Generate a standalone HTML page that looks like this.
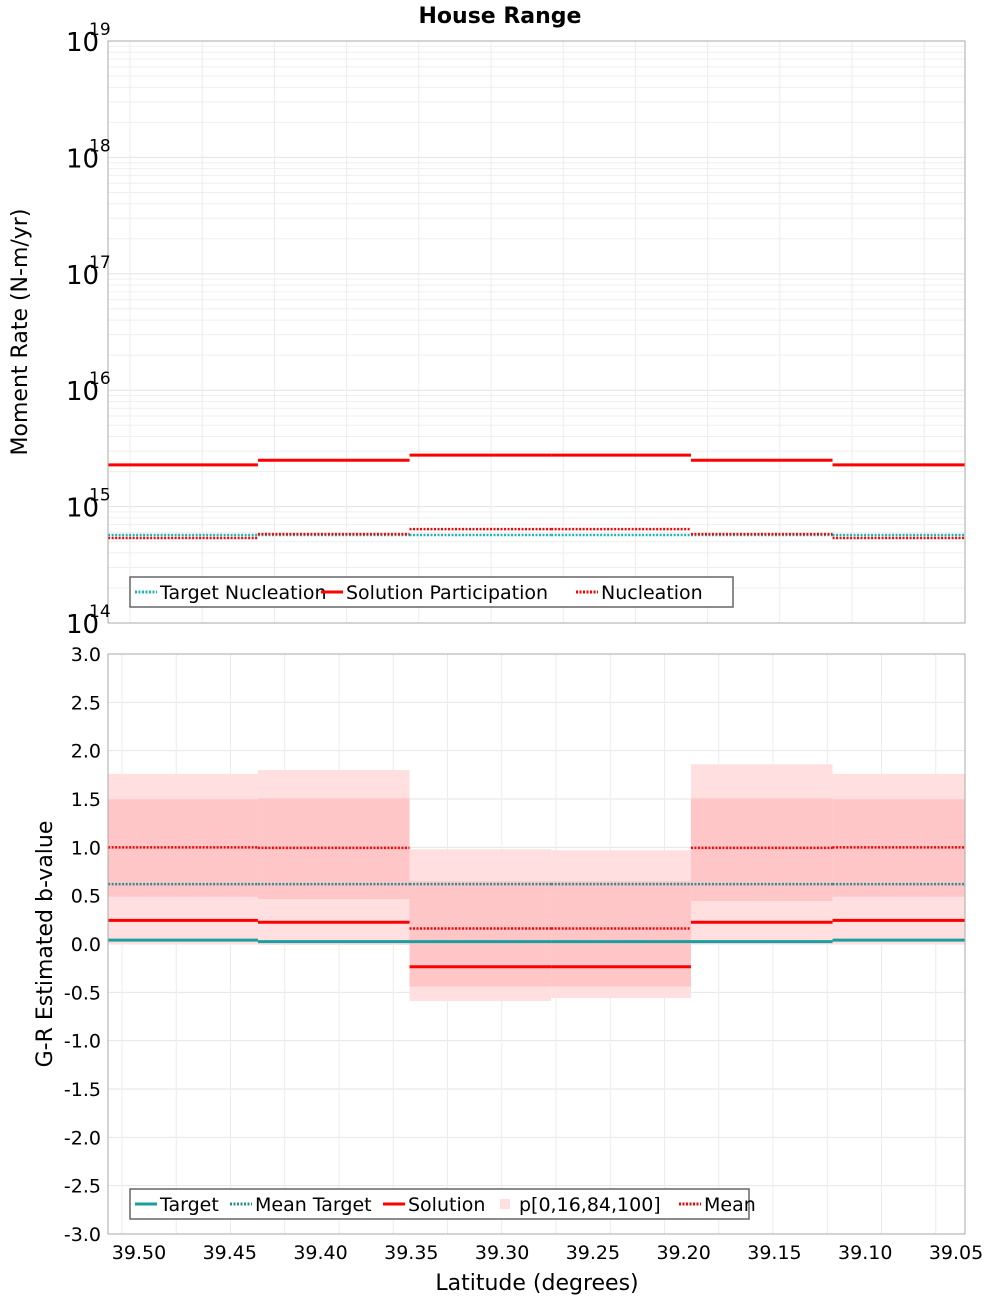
<!DOCTYPE html>
<html><head><meta charset="utf-8"><style>
body{margin:0;background:#fff;font-family:"DejaVu Sans","Liberation Sans",sans-serif;}
svg text{font-family:"DejaVu Sans","Liberation Sans",sans-serif;}
</style></head><body>
<svg id="c" width="1000" height="1300" xmlns="http://www.w3.org/2000/svg">
<text x="500" y="23" text-anchor="middle" font-size="22" font-weight="bold">House Range</text>
<g id="topPanel"></g>
<g id="botPanel"></g>
<text x="537" y="1290" text-anchor="middle" font-size="22">Latitude (degrees)</text>
<text transform="translate(27,332) rotate(-90)" text-anchor="middle" font-size="22">Moment Rate (N-m/yr)</text>
<text transform="translate(52,944) rotate(-90)" text-anchor="middle" font-size="22">G-R Estimated b-value</text>
</svg>
<script>
const binEdges=[39.517,39.4345,39.351,39.273,39.196,39.118,39.045];
const xTicks=[39.50,39.45,39.40,39.35,39.30,39.25,39.20,39.15,39.10,39.05];
const topDecades=[14,15,16,17,18,19];
const solPart=[2.28e15,2.5e15,2.77e15,2.77e15,2.5e15,2.28e15];
const nucl=[5.37e14,5.8e14,6.4e14,6.4e14,5.8e14,5.37e14];
const targetNucl=[5.7e14,5.7e14,5.7e14,5.7e14,5.7e14,5.7e14];
const bTicks=[-3,-2.5,-2,-1.5,-1,-0.5,0,0.5,1,1.5,2,2.5,3];
const p0=[0.0,-0.01,-0.59,-0.56,0.0,0.0];
const p16=[0.49,0.465,-0.44,-0.44,0.445,0.49];
const p84=[1.497,1.507,0.65,0.65,1.507,1.497];
const p100=[1.76,1.80,0.98,0.97,1.86,1.76];
const bSol=[0.245,0.225,-0.235,-0.235,0.225,0.245];
const bMean=[1.0,0.994,0.16,0.16,0.994,1.0];
const bTarget=[0.04,0.025,0.025,0.025,0.025,0.04];
const bMeanTarget=[0.62,0.62,0.62,0.62,0.62,0.62];

const NS='http://www.w3.org/2000/svg';
const L=108,R=965;
const X=v=>139+(39.50-v)/0.05*90.78;
const TT=41,TB=623,BT=654,BB=1234;
const YT=v=>TB-(Math.log10(v)-14)*(TB-TT)/5;
const YB=v=>BB-(v+3)*(BB-BT)/6;
function mk(p,t,a,txt){const e=document.createElementNS(NS,t);for(const k in a)e.setAttribute(k,a[k]);if(txt!==undefined)e.textContent=txt;p.appendChild(e);return e;}
const topG=document.getElementById('topPanel'),botG=document.getElementById('botPanel');

for(let d=14;d<19;d++)for(let m=1;m<10;m++){const y=YT(m*Math.pow(10,d));
 const g=mk(topG,'line',{x1:L,x2:R,y1:y,y2:y,stroke:m==1?'#e2e2e2':'#efefef','stroke-width':1});
 
 }
for(let x=130;x<R;x+=72.2){const g=mk(topG,'line',{x1:x,x2:x,y1:TT,y2:TB,stroke:'#ececec'});
 
 }
bTicks.forEach(v=>{const y=YB(v);const g=mk(botG,'line',{x1:L,x2:R,y1:y,y2:y,stroke:'#e6e6e6'});
 
 });
for(let x=122;x<R;x+=54.25){const g=mk(botG,'line',{x1:x,x2:x,y1:BT,y2:BB,stroke:'#ececec'});
 
 }

for(let i=0;i<6;i++){const x1=X(binEdges[i]),x2=X(binEdges[i+1]);
 const a=mk(botG,'rect',{x:x1,width:x2-x1,y:YB(p100[i]),height:YB(p0[i])-YB(p100[i]),fill:'#ffdfe0'});
 
 
 const b=mk(botG,'rect',{x:x1,width:x2-x1,y:YB(p84[i]),height:YB(p16[i])-YB(p84[i]),fill:'#ffc6c8'});
 
 }

function steps(g,arr,Y,col,w,dash,name){for(let i=0;i<arr.length;i++){const x1=X(binEdges[i]),x2=X(binEdges[i+1]);
 const a={x1:x1,x2:x2,y1:Y(arr[i]),y2:Y(arr[i]),stroke:col,'stroke-width':w};if(dash)a['stroke-dasharray']=dash;
 const l=mk(g,'line',a);
 
 }}
steps(topG,targetNucl,YT,'#1fb5b5',2.5,'2,1.5','target-nucleation-step');
steps(topG,nucl,YT,'#ff0000',2.5,'2,1.5','nucleation-step');
steps(topG,solPart,YT,'#ff0000',3,null,'solution-participation-step');
steps(botG,bTarget,YB,'#1a9e9e',3,null,'target-step');
steps(botG,bMeanTarget,YB,'#2a8f8f',2.5,'2,1.5','mean-target-step');
steps(botG,bMean,YB,'#ff0000',2.5,'2,1.5','mean-step');
steps(botG,bSol,YB,'#ff0000',3,null,'solution-step');

let f=mk(topG,'rect',{x:L,y:TT,width:R-L,height:TB-TT,fill:'none',stroke:'#aaa'});


f=mk(botG,'rect',{x:L,y:BT,width:R-L,height:BB-BT,fill:'none',stroke:'#aaa'});



topDecades.forEach(d=>{const y=YT(Math.pow(10,d));
 const t=mk(topG,'text',{x:66,y:y+10,'font-size':26},'10');
 
 
 const s=mk(topG,'text',{x:89,y:y-6,'font-size':17},String(d));
 
 });
bTicks.forEach(v=>{const t=mk(botG,'text',{x:101,y:YB(v)+7,'font-size':19,'text-anchor':'end'},v.toFixed(1));
 
 });
xTicks.forEach(v=>{const t=mk(botG,'text',{x:X(v),y:1259,'font-size':19,'text-anchor':'middle'},v.toFixed(2));
 
 });

function legend(g,x,y,w,items,name){const lg=mk(g,'g',{});
 
 
 mk(lg,'rect',{x:x,y:y,width:w,height:30,fill:'#fff',stroke:'#666','stroke-width':1.5});
 let cx=x+5;items.forEach(it=>{
  const e=mk(lg,'g',{});
  
  
  if(it.band){mk(e,'rect',{x:cx+6,y:y+10,width:10,height:10,fill:'#ffdfe0'});}
  else{const a={x1:cx,x2:cx+22,y1:y+15,y2:y+15,stroke:it.c,'stroke-width':3};if(it.d)a['stroke-dasharray']='2,1.5';mk(e,'line',a);}
  mk(e,'text',{x:cx+25,y:y+22,'font-size':19},it.t);cx+=25+it.w;});}
legend(topG,130,577,603,[{t:'Target Nucleation',c:'#1fb5b5',d:1,w:161},{t:'Solution Participation',c:'#ff0000',w:230},{t:'Nucleation',c:'#ff0000',d:1,w:110}],'top-legend');
legend(botG,130,1189,619,[{t:'Target',c:'#1a9e9e',w:70},{t:'Mean Target',c:'#2a8f8f',d:1,w:128},{t:'Solution',c:'#ff0000',w:86},{t:'p[0,16,84,100]',band:1,w:160},{t:'Mean',c:'#ff0000',d:1,w:60}],'bottom-legend');
</script>
</body></html>
